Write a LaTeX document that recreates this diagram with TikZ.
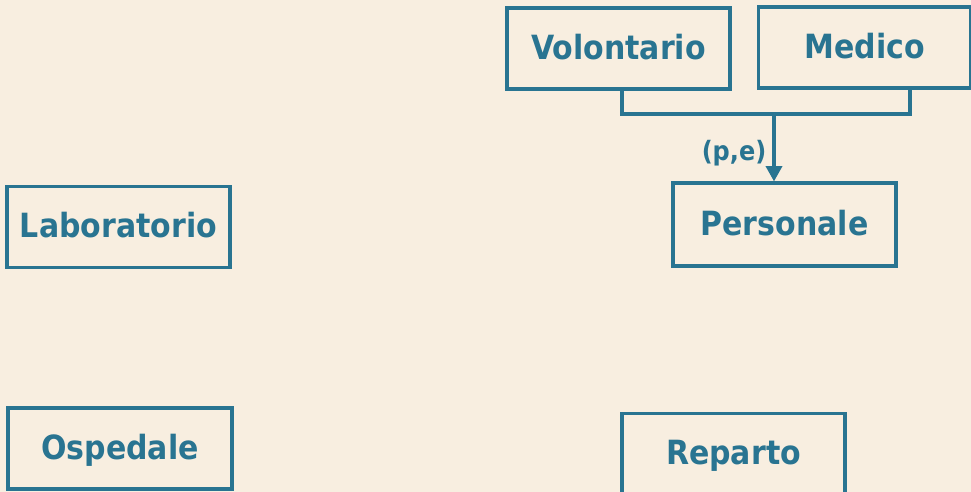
\documentclass[tikz,border=0pt]{standalone}
\usepackage{fontspec}
\newfontfamily\erfont{DejaVu Sans Condensed}
\usetikzlibrary{arrows.meta,positioning}
\definecolor{erblue}{RGB}{41,116,145}
\definecolor{erback}{RGB}{248,238,224}
\tikzset{
  entity/.style={draw=erblue,line width=2.6pt,text=erblue,
    minimum width=167pt,minimum height=61pt,inner sep=0pt,
    text height=16pt,text depth=0pt,
    font=\erfont\bfseries\fontsize{25}{29}\selectfont},
  link/.style={draw=erblue,line width=2.6pt},
  isalabel/.style={text=erblue,font=\erfont\bfseries\fontsize{20}{24}\selectfont}
}
\begin{document}
\begin{tikzpicture}[x=0.75pt,y=0.75pt,yscale=-1,xscale=1]
%background and page size
\fill[erback] (0,0) rectangle (971,492);
\useasboundingbox (0,0) rectangle (971,492);

%Entities
\node[entity] (Volontario) at (618.5,48.5) {Volontario};
\node[entity,minimum width=159pt] (Medico) at (864.5,47.5) {Medico};
\node[entity,minimum height=62pt] (Personale) at (784.5,224.5) {Personale};
\node[entity] (Laboratorio) at (118.5,227) {Laboratorio};
\node[entity,minimum width=168pt] (Ospedale) at (120,448.5) {Ospedale};
\node[entity] (Reparto) at (733.5,454) {Reparto};

%Generalization
\coordinate (isa) at (774,114);
\draw[link] ([xshift=2.6pt]Volontario.south) |- (isa) -| ([xshift=34pt]Medico.south);
\draw[link,-{Triangle[width=12pt,length=11.5pt]}] (isa) -- (Personale.north -| isa);
\node[isalabel] (pe) at (734,153) {(p,e)};

\end{tikzpicture}
\end{document}
